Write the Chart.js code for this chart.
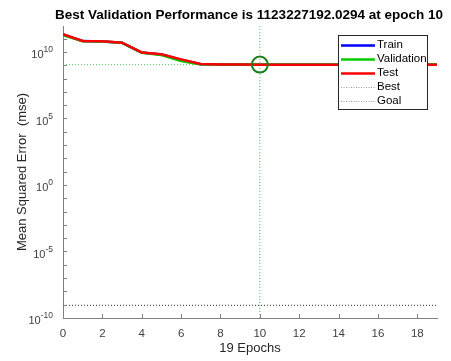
<!DOCTYPE html>
<html>
<head>
<meta charset="utf-8">
<script src="https://cdn.jsdelivr.net/npm/chart.js@4.4.0/dist/chart.umd.min.js"></script>
<style>
  html, body { margin: 0; padding: 0; background: #fff; }
  canvas { display: block; }
</style>
</head>
<body>
<canvas id="perfChart" width="451" height="361"></canvas>
<script>
// values
const epochs = [0, 1, 2, 3, 4, 5, 6, 7, 8, 9, 10, 11, 12, 13, 14, 15, 16, 17, 18, 19];
const trainPerf = [2.1e11, 6.6e10, 6.2e10, 4.9e10, 9.0e9, 6.5e9, 2.6e9, 1.22e9, 1.14e9, 1.13e9, 1.12e9, 1.12e9, 1.12e9, 1.12e9, 1.12e9, 1.12e9, 1.12e9, 1.12e9, 1.12e9, 1.12e9];
const valPerf = [1.8e11, 6.5e10, 6.1e10, 4.9e10, 8.8e9, 6.0e9, 2.1e9, 1.14e9, 1.13e9, 1.125e9, 1.123227e9, 1.124e9, 1.124e9, 1.125e9, 1.125e9, 1.125e9, 1.125e9, 1.125e9, 1.125e9, 1.125e9];
const testPerf = [2.2e11, 6.7e10, 6.3e10, 5.0e10, 9.2e9, 6.7e9, 2.8e9, 1.26e9, 1.15e9, 1.13e9, 1.12e9, 1.12e9, 1.12e9, 1.12e9, 1.12e9, 1.12e9, 1.12e9, 1.12e9, 1.12e9, 1.12e9];
const bestEpoch = 10;
const bestPerf = 1123227192.0294;
const goalPerf = 9e-10;
const xTicks = [0, 2, 4, 6, 8, 10, 12, 14, 16, 18];
const yTickExps = [-10, -9, -8, -7, -6, -5, -4, -3, -2, -1, 0, 1, 2, 3, 4, 5, 6, 7, 8, 9, 10, 11];
const yLabelExps = [-10, -5, 0, 5, 10];
const legendLabels = ["Train", "Validation", "Test", "Best", "Goal"];
const xMin = 0, xMax = 19;
const yMin = 1e-10, yMax = 9e11;
const titleText = "Best Validation Performance is 1123227192.0294 at epoch 10";

const FONT = '"Liberation Sans", Arial, Helvetica, sans-serif';
const toPoints = (xs, ys) => xs.map((x, i) => ({ x: x, y: ys[i] }));

// inward ticks, superscript y labels, title and boxed legend
const matlabDecor = {
  id: "matlabDecor",
  afterDraw(chart) {
    const { ctx, chartArea: a, scales: { x, y } } = chart;
    ctx.save();

    ctx.strokeStyle = "#808080";
    ctx.lineWidth = 1;
    ctx.beginPath();
    x.ticks.forEach(t => {
      const px = Math.round(x.getPixelForValue(t.value)) + 0.5;
      ctx.moveTo(px, a.bottom);
      ctx.lineTo(px, a.bottom - 4);
    });
    y.ticks.forEach(t => {
      const py = Math.round(y.getPixelForValue(t.value)) + 0.5;
      ctx.moveTo(a.left, py);
      ctx.lineTo(a.left + 4, py);
    });
    ctx.stroke();

    ctx.fillStyle = "#404040";
    ctx.textBaseline = "middle";
    ctx.textAlign = "left";
    const right = a.left - 10;
    yLabelExps.forEach(e => {
      const py = y.getPixelForValue(Math.pow(10, e));
      const expText = String(e);
      ctx.font = "8.5px " + FONT;
      const ew = ctx.measureText(expText).width;
      ctx.font = "11px " + FONT;
      const bw = ctx.measureText("10").width;
      ctx.fillText("10", right - ew - bw, py + 3);
      ctx.font = "8.5px " + FONT;
      ctx.fillText(expText, right - ew, py - 2);
    });

    ctx.fillStyle = "#000";
    ctx.font = "bold 13.5px " + FONT;
    ctx.textAlign = "center";
    ctx.textBaseline = "alphabetic";
    ctx.fillText(titleText, (a.left + a.right) / 2 - 1, 19);

    const lx = 338, ly = 35, lw = 89, lh = 74;
    ctx.fillStyle = "#fff";
    ctx.fillRect(lx, ly, lw, lh);
    ctx.strokeStyle = "#262626";
    ctx.strokeRect(lx + 0.5, ly + 0.5, lw, lh);
    ctx.font = "11.5px " + FONT;
    ctx.textAlign = "left";
    ctx.textBaseline = "middle";
    legendLabels.forEach((label, i) => {
      const ds = chart.data.datasets.find(d => d.label === label);
      const yy = ly + 9.5 + i * 14;
      ctx.save();
      const dotted = ds.borderDash && ds.borderDash.length;
      ctx.strokeStyle = dotted ? "#9a9a9a" : ds.borderColor;
      ctx.lineWidth = dotted ? 1 : ds.borderWidth;
      ctx.setLineDash(dotted ? [1, 1.5] : []);
      ctx.beginPath();
      ctx.moveTo(lx + 3, Math.round(yy) + 0.5);
      ctx.lineTo(lx + 37, Math.round(yy) + 0.5);
      ctx.stroke();
      ctx.restore();
      ctx.fillStyle = "#000";
      ctx.fillText(label, lx + 39, yy);
    });

    ctx.restore();
  }
};

new Chart(document.getElementById("perfChart"), {
  type: "line",
  data: {
    datasets: [
      {
        label: "Train",
        data: toPoints(epochs, trainPerf),
        borderColor: "#0000ff",
        borderWidth: 2.5,
        pointRadius: 0,
        order: 3
      },
      {
        label: "Validation",
        data: toPoints(epochs, valPerf),
        borderColor: "#00cc00",
        borderWidth: 2.5,
        pointRadius: 0,
        order: 2
      },
      {
        label: "Test",
        data: toPoints(epochs, testPerf),
        borderColor: "#ff0000",
        borderWidth: 2.5,
        pointRadius: 0,
        order: 1
      },
      {
        label: "Best",
        data: [{ x: bestEpoch, y: yMin }, { x: bestEpoch, y: yMax }],
        borderColor: "#5cbf5c",
        borderWidth: 1,
        borderDash: [1, 2],
        pointRadius: 0,
        order: 5
      },
      {
        label: "BestLevel",
        data: [{ x: xMin, y: bestPerf }, { x: xMax, y: bestPerf }],
        borderColor: "#5cbf5c",
        borderWidth: 1,
        borderDash: [1, 2],
        pointRadius: 0,
        order: 5
      },
      {
        label: "Goal",
        data: [{ x: xMin, y: goalPerf }, { x: xMax, y: goalPerf }],
        borderColor: "#333333",
        borderWidth: 1,
        borderDash: [1, 2],
        pointRadius: 0,
        order: 5
      },
      {
        label: "BestPoint",
        data: [{ x: bestEpoch, y: bestPerf }],
        showLine: false,
        pointRadius: 8,
        pointBorderWidth: 2,
        pointBorderColor: "#1a7f1a",
        pointBackgroundColor: "rgba(0,0,0,0)",
        order: 0
      }
    ]
  },
  options: {
    responsive: false,
    animation: false,
    devicePixelRatio: 1,
    layout: { padding: { top: 26, right: 14, bottom: 0, left: 0 } },
    plugins: {
      legend: { display: false },
      tooltip: { enabled: false },
      title: { display: false }
    },
    scales: {
      x: {
        type: "linear",
        min: xMin,
        max: xMax,
        afterBuildTicks: s => { s.ticks = xTicks.map(v => ({ value: v })); },
        afterFit: s => { s.height = 43; },
        ticks: {
          autoSkip: false,
          maxRotation: 0,
          padding: 1,
          color: "#404040",
          font: { family: FONT, size: 11.5 }
        },
        grid: { display: false },
        border: { display: true, color: "#808080", width: 1 },
        title: {
          display: true,
          text: "19 Epochs",
          color: "#262626",
          font: { family: FONT, size: 13 },
          padding: { top: 0, bottom: 5 }
        }
      },
      y: {
        type: "logarithmic",
        min: yMin,
        max: yMax,
        afterBuildTicks: s => { s.ticks = yTickExps.map(e => ({ value: Math.pow(10, e) })); },
        afterFit: s => { s.width = 63; },
        ticks: { display: false },
        grid: { display: false },
        border: { display: true, color: "#808080", width: 1 },
        title: {
          display: true,
          text: "Mean Squared Error  (mse)",
          color: "#262626",
          font: { family: FONT, size: 13 },
          padding: { top: 15, bottom: 0 }
        }
      }
    }
  },
  plugins: [matlabDecor]
});
</script>
</body>
</html>
